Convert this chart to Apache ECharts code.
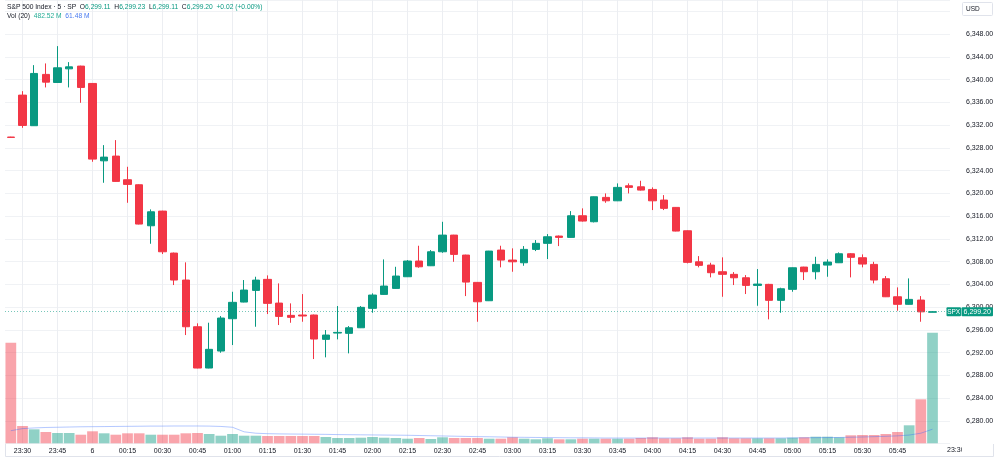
<!DOCTYPE html>
<html>
<head>
<meta charset="utf-8">
<title>S&amp;P 500 Index 5</title>
<script src="https://cdn.jsdelivr.net/npm/echarts@6.0.0/dist/echarts.min.js"></script>
<style>
html, body { margin: 0; padding: 0; background: #fff; }
#main { width: 1000px; height: 459px; }
</style>
</head>
<body>
<div id="main"></div>
<script>
// 5 min bars, 23:25 -> 06:00
var times = ['23:25', '23:30', '23:35', '23:40', '23:45', '23:50', '23:55',
	'00:00', '00:05', '00:10', '00:15', '00:20', '00:25', '00:30', '00:35', '00:40', '00:45', '00:50', '00:55',
	'01:00', '01:05', '01:10', '01:15', '01:20', '01:25', '01:30', '01:35', '01:40', '01:45', '01:50', '01:55',
	'02:00', '02:05', '02:10', '02:15', '02:20', '02:25', '02:30', '02:35', '02:40', '02:45', '02:50', '02:55',
	'03:00', '03:05', '03:10', '03:15', '03:20', '03:25', '03:30', '03:35', '03:40', '03:45', '03:50', '03:55',
	'04:00', '04:05', '04:10', '04:15', '04:20', '04:25', '04:30', '04:35', '04:40', '04:45', '04:50', '04:55',
	'05:00', '05:05', '05:10', '05:15', '05:20', '05:25', '05:30', '05:35', '05:40', '05:45', '05:50', '05:55',
	'06:00'];
var nextSession = ['23:25'];   // empty slot right of the last bar
var nextLabel = '23:30';

var opens = [6329.90, 6337.28, 6331.90, 6340.92, 6339.50, 6341.90, 6342.38, 6339.33, 6325.73, 6326.56,
	6322.40, 6321.52, 6314.31, 6316.89, 6309.51, 6304.77, 6296.56, 6289.30, 6292.29, 6297.97,
	6300.90, 6302.95, 6304.89, 6300.72, 6298.56, 6298.62, 6298.62, 6294.34, 6295.45, 6295.40,
	6296.38, 6299.79, 6302.25, 6303.30, 6305.35, 6308.11, 6307.28, 6309.74, 6312.67, 6309.16,
	6304.36, 6301.13, 6310.04, 6308.28, 6307.81, 6310.16, 6311.22, 6312.50, 6312.27, 6316.07,
	6315.02, 6319.30, 6318.70, 6321.34, 6321.16, 6320.70, 6318.83, 6317.54, 6313.43, 6307.98,
	6307.40, 6306.23, 6305.77, 6305.17, 6303.83, 6304.01, 6301.20, 6303.13, 6307.05, 6306.23,
	6307.40, 6307.81, 6309.39, 6308.69, 6307.52, 6305.00, 6301.83, 6300.50, 6301.25, 6299.11];
var highs = [6329.95, 6337.98, 6342.55, 6342.85, 6345.89, 6343.08, 6342.45, 6339.40, 6328.49, 6329.37,
	6324.68, 6321.60, 6317.19, 6316.95, 6309.60, 6307.88, 6297.16, 6297.27, 6298.44, 6302.71,
	6304.77, 6305.35, 6305.59, 6304.18, 6300.67, 6302.30, 6298.70, 6295.98, 6300.20, 6296.68,
	6300.20, 6302.43, 6308.40, 6307.10, 6308.28, 6310.80, 6310.04, 6315.01, 6312.72, 6309.22,
	6304.42, 6309.90, 6310.80, 6310.34, 6310.74, 6311.80, 6312.85, 6312.60, 6316.89, 6317.37,
	6319.46, 6320.00, 6321.76, 6321.76, 6322.22, 6321.06, 6319.70, 6317.60, 6313.50, 6308.98,
	6307.81, 6308.76, 6306.17, 6305.64, 6306.70, 6304.10, 6303.42, 6306.98, 6307.10, 6308.86,
	6308.40, 6309.63, 6309.50, 6309.28, 6307.98, 6305.47, 6303.48, 6305.06, 6301.95, 6299.23];
var lows = [6329.80, 6331.53, 6331.85, 6338.63, 6339.45, 6338.63, 6335.93, 6325.56, 6321.87, 6322.05,
	6318.35, 6314.55, 6311.15, 6309.34, 6303.89, 6295.10, 6289.25, 6289.25, 6291.99, 6293.34,
	6300.85, 6296.56, 6298.79, 6296.86, 6297.26, 6297.44, 6290.88, 6291.18, 6294.34, 6291.88,
	6296.33, 6299.02, 6302.20, 6303.25, 6305.30, 6306.93, 6307.23, 6309.56, 6307.98, 6301.95,
	6297.44, 6301.08, 6307.00, 6306.23, 6307.28, 6309.86, 6308.46, 6310.74, 6312.22, 6315.05,
	6314.90, 6318.35, 6318.65, 6320.00, 6320.50, 6317.07, 6317.07, 6313.33, 6307.70, 6307.00,
	6305.24, 6301.83, 6303.89, 6302.31, 6300.25, 6297.86, 6299.02, 6302.71, 6304.77, 6304.89,
	6305.35, 6307.76, 6305.24, 6307.00, 6304.18, 6301.78, 6299.37, 6300.45, 6297.44, 6299.11];
var closes = [6329.85, 6331.95, 6341.09, 6339.56, 6342.08, 6342.25, 6338.63, 6326.03, 6326.38, 6322.11,
	6321.58, 6314.61, 6316.77, 6309.74, 6304.77, 6296.56, 6289.30, 6292.59, 6298.09, 6300.85,
	6303.01, 6304.76, 6300.67, 6298.38, 6298.21, 6298.45, 6294.40, 6295.10, 6295.57, 6296.38,
	6299.97, 6302.13, 6303.71, 6305.47, 6308.11, 6307.10, 6309.74, 6312.67, 6309.28, 6304.41,
	6300.95, 6309.86, 6308.28, 6307.98, 6310.16, 6311.22, 6312.38, 6312.27, 6316.07, 6315.14,
	6319.41, 6318.70, 6321.06, 6321.06, 6320.58, 6318.70, 6317.37, 6313.38, 6307.88, 6307.35,
	6306.06, 6305.77, 6305.17, 6303.83, 6304.06, 6301.20, 6303.24, 6306.93, 6306.23, 6307.52,
	6307.93, 6309.39, 6308.76, 6307.58, 6304.77, 6301.83, 6300.50, 6301.37, 6299.18, 6299.20];

// volume in millions
var volumes = [439, 75.5, 61, 49.3, 45, 45, 37.5, 52.4, 43.6, 37.5,
	43.6, 43.6, 37.5, 37.5, 37.5, 43.6, 45, 40.6, 33.2, 40.6,
	33.2, 33.2, 31.9, 31.9, 31.9, 31.9, 31.9, 27.5, 23.1, 23.1,
	24.4, 27.5, 24.4, 23.1, 20.1, 23.1, 18.8, 26.2, 23.1, 23.1,
	23.1, 20.1, 20.1, 26.2, 20.1, 17.5, 21.8, 17.5, 17.5, 20.1,
	20.1, 20.1, 20.1, 20.1, 23.1, 26.2, 21.8, 21.8, 26.2, 20.1,
	20.1, 26.2, 21.8, 21.8, 21.8, 21.8, 21.8, 24.4, 26.2, 28.8,
	28.8, 26.2, 34.9, 36.2, 36.2, 40.6, 49.3, 78.5, 192, 482.52];
// Vol MA(20)
var volMa = [55, 64, 67, 69, 70, 71, 72, 72.5, 73, 73.5,
	74, 74.5, 75, 75, 75.5, 75.5, 75.5, 75, 73.5, 70,
	50, 44, 42, 41, 40.5, 40, 39.5, 39, 38, 37.5,
	37, 36.5, 36, 35.5, 35, 34, 33, 32, 31, 30,
	29, 28.5, 27.5, 26.5, 26, 25.5, 25, 24.5, 24, 24,
	23.5, 23, 23, 23, 23, 23, 23, 23, 23, 23,
	23, 23, 23, 23, 23, 23, 23, 23.5, 24, 24.5,
	25, 25.5, 26.5, 27.5, 29, 30.5, 32.5, 36, 44, 61.48];

var priceMin = 6276, priceMax = 6354, priceStep = 4;
var volMax = 523.5;

var upColor = '#089981';
var downColor = '#F23645';
var txtColor = '#131722';
var gridColor = '#F0F2F5';
var font = "'Liberation Sans', Arial, sans-serif";

var candleData = [];
var volData = [];
for (var i = 0; i < opens.length; i++) {
	candleData.push([opens[i], closes[i], lows[i], highs[i]]);
	var up = closes[i] >= opens[i];
	volData.push({
		value: volumes[i],
		itemStyle: { color: up ? 'rgba(8,153,129,0.45)' : 'rgba(242,54,69,0.45)' }
	});
}
var axisTimes = times.concat(nextSession);
var n = opens.length;
var lastClose = closes[n - 1];

function fmt(v) {
	return v.toLocaleString('en-US', { minimumFractionDigits: 2, maximumFractionDigits: 2 });
}
// a label every 15 minutes, none on the session's last bar
function isMark(idx, val) {
	return /:(00|15|30|45)$/.test(val) && idx < n - 1;
}
// vertical grid lines sit on the labelled bars
var vLines = [];
for (var j = 0; j < times.length; j++) {
	if (isMark(j, times[j])) vLines.push({ xAxis: times[j] });
}

var chg = closes[n - 1] - closes[n - 2];
var pct = chg / closes[n - 2] * 100;
var sign = chg >= 0 ? '+' : '';
var headCol = closes[n - 1] >= opens[n - 1] ? upColor : downColor;
var head = '{n|S&P 500 Index · 5 · SP}  {k|O}{v|' + fmt(opens[n - 1]) + '}  {k|H}{v|' + fmt(highs[n - 1]) +
	'}  {k|L}{v|' + fmt(lows[n - 1]) + '}  {k|C}{v|' + fmt(closes[n - 1]) + '}  {v|' +
	sign + chg.toFixed(2) + ' (' + sign + pct.toFixed(2) + '%)}\n' +
	'{n|Vol (20)}  {g|' + volumes[n - 1].toFixed(2) + ' M}  {b|' + volMa[n - 1].toFixed(2) + ' M}';

function richStyle(c) {
	return { color: c, fontSize: 6.7, fontWeight: 'normal', fontFamily: font, lineHeight: 9 };
}

var myChart = echarts.init(document.getElementById('main'));

var option = {
	animation: false,
	backgroundColor: '#ffffff',
	title: {
		left: 7,
		top: 3,
		padding: 0,
		text: head,
		textStyle: {
			fontWeight: 'normal',
			fontSize: 6.7,
			lineHeight: 9,
			rich: {
				n: richStyle(txtColor),
				k: richStyle(txtColor),
				v: richStyle(headCol),
				g: richStyle('#22AB94'),
				b: richStyle('#4A7BF0')
			}
		}
	},
	grid: [
		{ left: 5, right: 50, top: 0, bottom: 15.3, outerBoundsMode: 'none' },
		{ left: 5, right: 50, bottom: 15.7, height: 120, outerBoundsMode: 'none' }
	],
	xAxis: [
		{
			type: 'category',
			gridIndex: 0,
			data: axisTimes,
			axisLine: { show: false },
			axisTick: { show: false },
			axisLabel: { show: false },
			splitLine: { show: false }
		},
		{
			type: 'category',
			gridIndex: 1,
			data: axisTimes,
			axisLine: { show: false },
			axisTick: { show: false },
			splitLine: { show: false },
			axisLabel: {
				interval: isMark,
				margin: 4,
				color: txtColor,
				fontSize: 7,
				fontFamily: font,
				formatter: function(v) {
					return v == '00:00' ? '6' : v;
				}
			}
		}
	],
	yAxis: [
		{
			type: 'value',
			gridIndex: 0,
			position: 'right',
			min: priceMin,
			max: priceMax,
			interval: priceStep,
			axisLine: { show: false },
			axisTick: { show: false },
			splitLine: { lineStyle: { color: gridColor } },
			axisLabel: {
				margin: 16,
				color: txtColor,
				fontSize: 7,
				fontFamily: font,
				formatter: function(v) {
					if (v < 6280 || v > 6350) return '';
					return fmt(v);
				}
			}
		},
		{
			type: 'value',
			gridIndex: 1,
			min: 0,
			max: volMax,
			show: false
		}
	],
	series: [
		{
			// carries the vertical grid lines only
			name: 'grid',
			type: 'line',
			xAxisIndex: 0,
			yAxisIndex: 0,
			data: [],
			z: 0,
			silent: true,
			markLine: {
				z: 0,
				silent: true,
				symbol: 'none',
				label: { show: false },
				lineStyle: { color: '#ECEEF2', type: 'solid', width: 1 },
				data: vLines
			}
		},
		{
			name: 'Vol',
			type: 'bar',
			xAxisIndex: 1,
			yAxisIndex: 1,
			data: volData,
			barCategoryGap: '8%',
			silent: true
		},
		{
			name: 'Vol MA',
			type: 'line',
			xAxisIndex: 1,
			yAxisIndex: 1,
			data: volMa,
			showSymbol: false,
			silent: true,
			lineStyle: { color: 'rgba(41,98,255,0.35)', width: 1 }
		},
		{
			name: 'SPX',
			type: 'candlestick',
			xAxisIndex: 0,
			yAxisIndex: 0,
			data: candleData,
			barWidth: 8,
			itemStyle: {
				color: upColor,
				color0: downColor,
				borderColor: upColor,
				borderColor0: downColor,
				borderWidth: 1
			},
			markLine: {
				silent: true,
				symbol: 'none',
				label: { show: false },
				lineStyle: { color: upColor, type: [1, 2], width: 1, opacity: 0.55 },
				data: [{ yAxis: lastClose }]
			}
		}
	]
};
myChart.setOption(option);

// price scale badges, placed through the axis scales
var yLast = myChart.convertToPixel({ yAxisIndex: 0 }, lastClose);
var xLab = myChart.convertToPixel({ xAxisIndex: 1 }, n + 1);
myChart.setOption({
	graphic: [
		{ type: 'polyline', z: 50, shape: { points: [[5.5, 444], [5.5, 456.5], [993.5, 456.5], [993.5, 444]] },
			style: { fill: null, stroke: '#E0E3EB', lineWidth: 1 } },
		{ type: 'text', z: 50, x: xLab, y: 450.5,
			style: { text: nextLabel, fill: txtColor, font: '7px ' + font, align: 'center', verticalAlign: 'middle' } },
		{ type: 'rect', z: 51, shape: { x: 962, y: 444, width: 31, height: 12 }, style: { fill: '#fff' } },
		{ type: 'rect', z: 60, shape: { x: 962.5, y: 2.5, width: 30, height: 13, r: 1 },
			style: { fill: '#fff', stroke: '#E0E3EB', lineWidth: 1 } },
		{ type: 'text', z: 61, x: 966, y: 9,
			style: { text: 'USD', fill: txtColor, font: '6.5px ' + font, verticalAlign: 'middle' } },
		{ type: 'rect', z: 60, shape: { x: 946.5, y: yLast - 4.5, width: 14.5, height: 9, r: 1 }, style: { fill: upColor } },
		{ type: 'text', z: 61, x: 953.7, y: yLast,
			style: { text: 'SPX', fill: '#fff', font: '6.5px ' + font, align: 'center', verticalAlign: 'middle' } },
		{ type: 'rect', z: 60, shape: { x: 961.5, y: yLast - 4.5, width: 31.5, height: 9, r: 1 }, style: { fill: upColor } },
		{ type: 'text', z: 61, x: 977.2, y: yLast,
			style: { text: fmt(lastClose), fill: '#fff', font: '7px ' + font, align: 'center', verticalAlign: 'middle' } }
	]
});
</script>
</body>
</html>
